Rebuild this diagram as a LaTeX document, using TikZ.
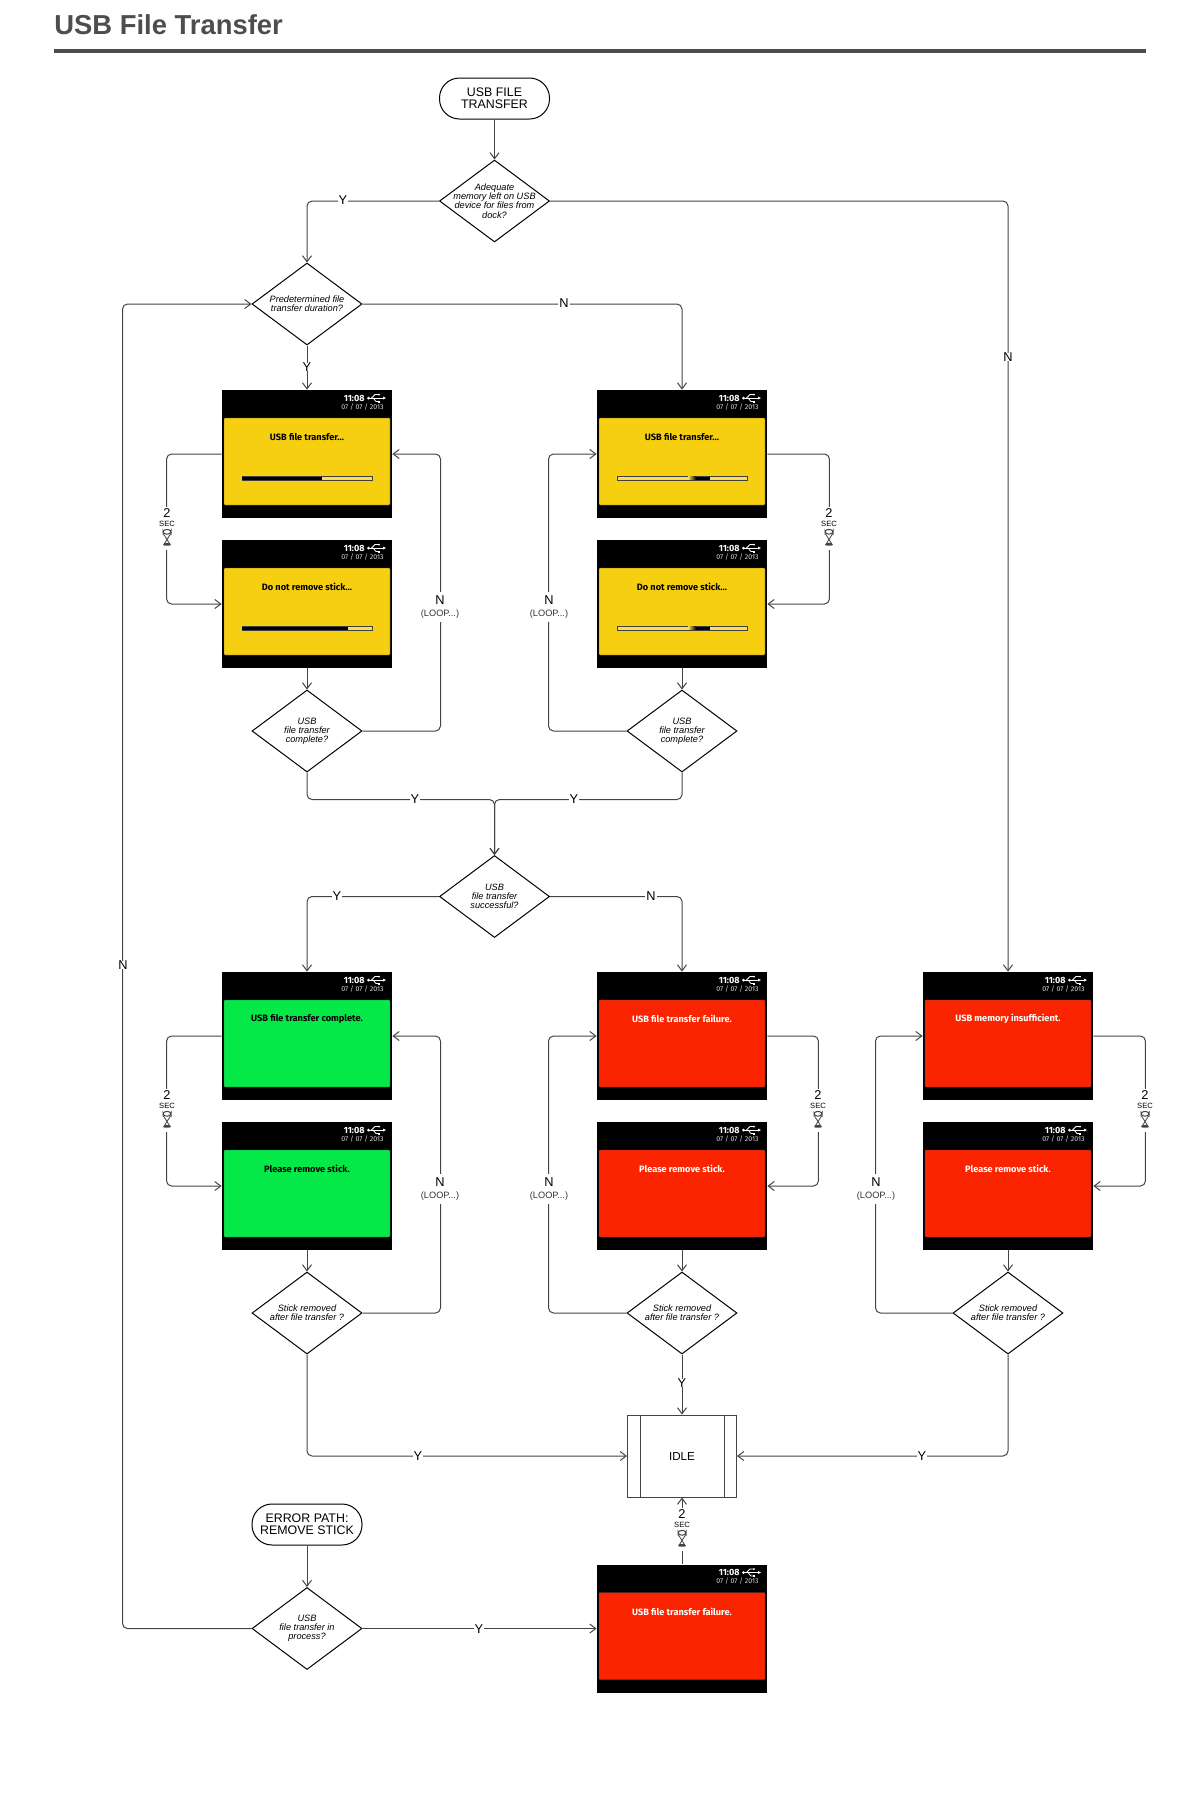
\documentclass[tikz,border=0pt]{standalone}
\usepackage{fontspec}
\setmainfont{Liberation Sans}
\newfontfamily\screenfont{Fira Sans}
\usetikzlibrary{arrows.meta,shapes.geometric,calc}
\definecolor{linegray}{RGB}{68,68,68}
\definecolor{titlegray}{RGB}{77,77,77}
\definecolor{panelyellow}{RGB}{247,207,17}
\definecolor{panelgreen}{RGB}{4,232,72}
\definecolor{panelred}{RGB}{250,36,0}
\definecolor{barlight}{RGB}{252,222,85}

% one phone screen: name, centre, panel colour, text colour, message, bar
\newcommand{\usbscreen}[6]{%
  \node[screen] (#1) at (#2) {};
  \begin{scope}[shift={(#2)}]
    \node[panel, fill=#3] (#1p) at (0,7.5) {};
    \node[timetxt] (#1t) at (58,-56) {11:08};
    \node[datetxt] (#1d) at (77,-47) {07 / 07 / 2013};
    \node[msgtxt, text=#4] (#1m) at (0,-17) {#5};
    \pic at (60,-56) {usbicon};
    #6
  \end{scope}}
% bar with a filled part from the left, and bar with a moving block
\newcommand{\barleft}[1]{%
  \draw[barline] (-65,22) rectangle (65,26);
  \fill[black] (-65,22.5) rectangle (#1,25.5);}
\newcommand{\barmid}{%
  \draw[barline] (-65,22) rectangle (65,26);
  \shade[left color=barlight, right color=black] (6,22.5) rectangle (14,25.5);
  \fill[black] (14,22.5) rectangle (28,25.5);}
% decision: empty diamond with the question set over it
\newcommand{\decision}[3]{%
  \node[dec] (#1) at (#2) {};
  \node[dectxt] (#1q) at (#1) {#3};}
% 2 SEC wait mark on a line
\newcommand{\secwait}[2]{%
  \node[gapbox, minimum width=10pt, minimum height=21.5pt] (#1) at (#2) {};
  \begin{scope}[shift={(#2)}]
    \node[lbl] (#1a) at (0,-15) {2};
    \node[sectxt] (#1b) at (0,-4) {SEC};
    \pic at (0,9.5) {hourglass};
  \end{scope}}
% N (LOOP...) mark on a line
\newcommand{\loopmark}[2]{%
  \node[gapbox, minimum width=22pt, minimum height=15pt] (#1) at (#2) {};
  \begin{scope}[shift={(#2)}]
    \node[lbl] (#1a) at (0,-7) {N};
    \node[looptxt] (#1b) at (0,7) {(LOOP...)};
  \end{scope}}

\begin{document}
\begin{tikzpicture}[x=0.5pt, y=-0.5pt,
    screen/.style={rectangle, fill=black, minimum width=85pt, minimum height=64pt,
                   inner sep=0pt},
    panel/.style={rectangle, draw=black!70, line width=0.2pt, rounded corners=0.4pt,
                  minimum width=83pt, minimum height=43.5pt, inner sep=0pt},
    timetxt/.style={anchor=east, text=white, inner sep=0pt,
                    font=\screenfont\bfseries\fontsize{4.5}{5}\selectfont},
    datetxt/.style={anchor=east, text=black!15, inner sep=0pt,
                    font=\screenfont\fontsize{3.5}{4}\selectfont},
    msgtxt/.style={inner sep=0pt, font=\screenfont\bfseries\fontsize{4.6}{5}\selectfont},
    barline/.style={draw=black!75, line width=0.3pt, fill=barlight},
    dec/.style={diamond, draw=black, line width=0.5pt, aspect=1.34, inner sep=0pt,
                minimum width=55pt, minimum height=41pt},
    dectxt/.style={align=center, inner sep=0pt,
                   font=\itshape\fontsize{4.6}{4.6}\selectfont},
    term/.style={rectangle, draw=black, line width=0.5pt, rounded corners=10pt,
                 minimum width=55pt, minimum height=20.5pt, inner sep=0pt, align=center,
                 font=\fontsize{6.2}{6.1}\selectfont},
    idlebox/.style={rectangle, draw=linegray, line width=0.5pt, minimum width=54.5pt,
                    minimum height=41pt, inner sep=0pt, font=\fontsize{5.8}{6}\selectfont},
    flow/.style={draw=linegray, line width=0.5pt, rounded corners=2.5pt,
                 -{Straight Barb[length=3pt,width=4.5pt]}},
    lbl/.style={fill=white, inner xsep=0.6pt, inner ysep=0pt, font=\fontsize{6.4}{7}\selectfont},
    sectxt/.style={inner sep=0pt, font=\fontsize{3.8}{4}\selectfont},
    looptxt/.style={inner sep=0pt, text=black!80, font=\fontsize{4.6}{5}\selectfont},
    gapbox/.style={fill=white, inner sep=0pt},
    usbicon/.pic={
      \fill[white] (1.5,0) circle (1.5);
      \draw[white, line width=0.4pt] (1.5,0) -- (17,0);
      \draw[white, line width=0.4pt] (4.5,0) -- (8,-3.5) -- (12,-3.5);
      \draw[white, line width=0.4pt] (6,0) -- (9,3.5) -- (12,3.5);
      \fill[white] (12,-3.5) circle (1);
      \fill[white] (11,2.5) rectangle (13,4.5);
      \fill[white] (16,-1.5) -- (19,0) -- (16,1.5) -- cycle;
    },
    hourglass/.pic={
      \draw[linegray, line width=0.5pt, rounded corners=1.5pt] (-4,-8) rectangle (4,-3.5);
      \draw[linegray, line width=0.4pt] (-3.5,-3.5) -- (3.5,7.5);
      \draw[linegray, line width=0.4pt] (3.5,-3.5) -- (-3.5,7.5);
      \fill[linegray, rounded corners=1pt] (-4.5,8) -- (0,4) -- (4.5,8) -- cycle;
    }]
  \useasboundingbox (0,0) rectangle (1200,1800);

  % Title and rule
  \node[anchor=base west, inner sep=0pt, text=titlegray,
        font=\bfseries\fontsize{13.7}{14}\selectfont] (title) at (54,34.5) {USB File Transfer};
  \coordinate (rulel) at (54,50.5);
  \coordinate (ruler) at (1146,50.5);
  \draw[titlegray, line width=2pt] (rulel) -- (ruler);

  % Start and first decisions
  \node[term] (start) at (494.5,98.5) {USB FILE\\TRANSFER};
  \decision{mem}{494.5,201}{Adequate\\memory left on USB\\device for files from\\dock?}
  \decision{dur}{307,304}{Predetermined file\\transfer duration?}

  % Transfer screens
  \usbscreen{ta}{307,454}{panelyellow}{black}{USB file transfer...}{\barleft{15}}
  \usbscreen{tb}{307,604}{panelyellow}{black}{Do not remove stick...}{\barleft{41}}
  \usbscreen{ua}{682,454}{panelyellow}{black}{USB file transfer...}{\barmid}
  \usbscreen{ub}{682,604}{panelyellow}{black}{Do not remove stick...}{\barmid}
  \decision{cpa}{307,731}{USB\\file transfer\\complete?}
  \decision{cpb}{682,731}{USB\\file transfer\\complete?}
  \decision{ok}{494.5,896.5}{USB\\file transfer\\successful?}

  % Result screens
  \usbscreen{ga}{307,1036}{panelgreen}{black}{USB file transfer complete.}{}
  \usbscreen{gb}{307,1186}{panelgreen}{black}{Please remove stick.}{}
  \usbscreen{fa}{682,1036}{panelred}{white}{USB file transfer failure.}{}
  \usbscreen{fb}{682,1186}{panelred}{white}{Please remove stick.}{}
  \usbscreen{ma}{1008,1036}{panelred}{white}{USB memory insufficient.}{}
  \usbscreen{mb}{1008,1186}{panelred}{white}{Please remove stick.}{}
  \decision{sta}{307,1313}{Stick removed\\after file transfer ?}
  \decision{stb}{682,1313}{Stick removed\\after file transfer ?}
  \decision{stc}{1008,1313}{Stick removed\\after file transfer ?}

  % Idle and error path
  \node[idlebox] (idle) at (682,1456) {IDLE};
  \draw[linegray, line width=0.4pt] ([xshift=6.5pt]idle.north west) -- ([xshift=6.5pt]idle.south west);
  \draw[linegray, line width=0.4pt] ([xshift=-6.5pt]idle.north east) -- ([xshift=-6.5pt]idle.south east);
  \node[term] (err) at (307,1524.5) {ERROR PATH:\\REMOVE STICK};
  \decision{prc}{307,1628.5}{USB\\file transfer in\\process?}
  \usbscreen{fc}{682,1628.5}{panelred}{white}{USB file transfer failure.}{}

  % Connectors, top part
  \draw[flow] (start) -- (mem);
  \draw[flow] (mem.west) -| (dur.north);
  \draw[flow] (mem.east) -| (ma.north);
  \draw[flow] (dur.east) -| (ua.north);
  \draw[flow] (dur.south) -- (ta.north);
  \draw[flow] (ta.west) -- ++(-55,0) |- (tb.west);
  \draw[flow] (ua.east) -- ++(62,0) |- (ub.east);
  \draw[flow] (tb.south) -- (cpa.north);
  \draw[flow] (ub.south) -- (cpb.north);
  \draw[flow] (cpa.east) -- ++(78,0) |- (ta.east);
  \draw[flow] (cpb.west) -- ++(-78,0) |- (ua.west);
  \draw[flow] (cpa.south) -- ++(0,27) -| (ok.north);
  \draw[flow] (cpb.south) -- ++(0,27) -| (ok.north);
  \draw[flow] (ok.west) -| (ga.north);
  \draw[flow] (ok.east) -| (fa.north);

  % Connectors, bottom part
  \draw[flow] (ga.west) -- ++(-55,0) |- (gb.west);
  \draw[flow] (fa.east) -- ++(51,0) |- (fb.east);
  \draw[flow] (ma.east) -- ++(52,0) |- (mb.east);
  \draw[flow] (gb.south) -- (sta.north);
  \draw[flow] (fb.south) -- (stb.north);
  \draw[flow] (mb.south) -- (stc.north);
  \draw[flow] (sta.east) -- ++(78,0) |- (ga.east);
  \draw[flow] (stb.west) -- ++(-78,0) |- (fa.west);
  \draw[flow] (stc.west) -- ++(-77,0) |- (ma.west);
  \draw[flow] (sta.south) |- (idle.west);
  \draw[flow] (stb.south) -- (idle.north);
  \draw[flow] (stc.south) |- (idle.east);
  \draw[flow] (fc.north) -- (idle.south);
  \draw[flow] (err.south) -- (prc.north);
  \draw[flow] (prc.east) -- (fc.west);
  \draw[flow] (prc.west) -- ++(-129,0) |- (dur.west);

  % Y and N labels
  \foreach \nm/\x/\y/\txt in {ya/343/200/Y, na/1008/357/N, nb/564/303/N, yb/307/367/Y,
      yc/415/799/Y, yd/574/799/Y, ye/337/896/Y, nc/651/896/N, yf/682/1383/Y,
      yg/418/1456/Y, yh/922/1456/Y, yi/479/1629/Y, nd/123/965/N}{
    \node[lbl] (\nm) at (\x,\y) {\txt};
  }

  % Wait marks
  \secwait{wa}{167,528}
  \secwait{wb}{829,528}
  \secwait{wc}{167,1110}
  \secwait{wd}{818,1110}
  \secwait{we}{1145,1110}
  \secwait{wf}{682,1529}

  % Loop marks
  \loopmark{la}{440,607}
  \loopmark{lb}{549,607}
  \loopmark{lc}{440,1189}
  \loopmark{ld}{549,1189}
  \loopmark{le}{876,1189}
\end{tikzpicture}
\end{document}
